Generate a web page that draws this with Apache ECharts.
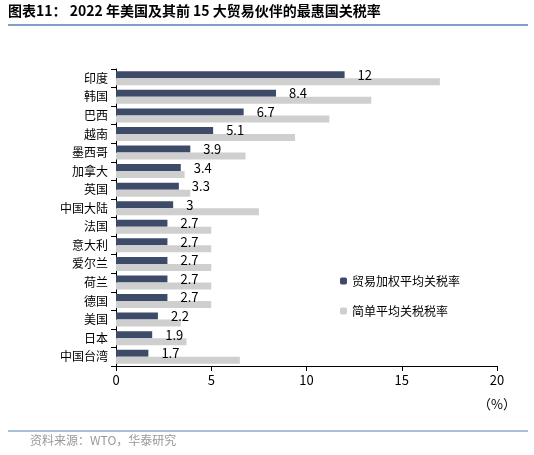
<!DOCTYPE html><html><head><meta charset="utf-8">
<script src="https://cdn.jsdelivr.net/npm/echarts@6/dist/echarts.min.js"></script>
<style>body{margin:0}#c{width:534px;height:455px}</style></head><body><div id="c"></div>
<script>
const categories=['印度','韩国','巴西','越南','墨西哥','加拿大','英国','中国大陆','法国','意大利','爱尔兰','荷兰','德国','美国','日本','中国台湾'];
const weighted=[12,8.4,6.7,5.1,3.9,3.4,3.3,3,2.7,2.7,2.7,2.7,2.7,2.2,1.9,1.7];
const simple=[17,13.4,11.2,9.4,6.8,3.6,3.9,7.5,5,5,5,5,5,3.4,3.7,6.5];
const xTicks=[0,5,10,15,20];
const ch=echarts.init(document.getElementById('c'));
const F='"Noto Sans CJK SC"';
ch.setOption({
 animation:false,
 textStyle:{fontFamily:F},
 graphic:[
  {type:'text',left:8,top:4,style:{text:'图表11： 2022 年美国及其前 15 大贸易伙伴的最惠国关税率',font:'bold 14px "Noto Sans CJK SC"',fill:'#000'}},
  {type:'line',shape:{x1:8,y1:25,x2:528,y2:25},style:{stroke:'#5b7fb5',lineWidth:1.5}},
  {type:'line',shape:{x1:8,y1:431,x2:528,y2:431},style:{stroke:'#5b7fb5',lineWidth:1}},
  {type:'text',left:30,top:434,style:{text:'资料来源：WTO，华泰研究',font:'12px "Noto Sans CJK SC"',fill:'#999'}},
  {type:'text',left:478,top:398,style:{text:'（%）',font:'13px "Noto Sans CJK SC"',fill:'#000'}}
 ],
 legend:{orient:'vertical',left:335,top:270,itemGap:18,itemWidth:7,itemHeight:7,
  textStyle:{fontSize:12,color:'#000',fontFamily:F},
  data:['贸易加权平均关税率','简单平均关税税率']},
 grid:{left:116,right:37,top:69,bottom:89},
 xAxis:{type:'value',min:0,max:20,interval:5,splitLine:{show:false},
  axisLine:{show:true,lineStyle:{color:'#000'}},axisTick:{show:true,lineStyle:{color:'#000'}},
  axisLabel:{color:'#000',fontSize:13,formatter:v=>xTicks.includes(v)?String(v):''}},
 yAxis:{type:'category',data:categories,inverse:true,
  axisLine:{lineStyle:{color:'#000'}},axisTick:{show:true,lineStyle:{color:'#000'}},
  axisLabel:{color:'#000',fontSize:12,fontFamily:F}},
 series:[
  {name:'贸易加权平均关税率',type:'bar',data:weighted,barWidth:7,barGap:'0%',itemStyle:{color:'#3d4a68'},
   label:{show:true,position:'right',color:'#000',fontSize:13,offset:[8,0]}},
  {name:'简单平均关税税率',type:'bar',data:simple,barWidth:7,itemStyle:{color:'#cfcfcf'}}
 ]
});
</script></body></html>
